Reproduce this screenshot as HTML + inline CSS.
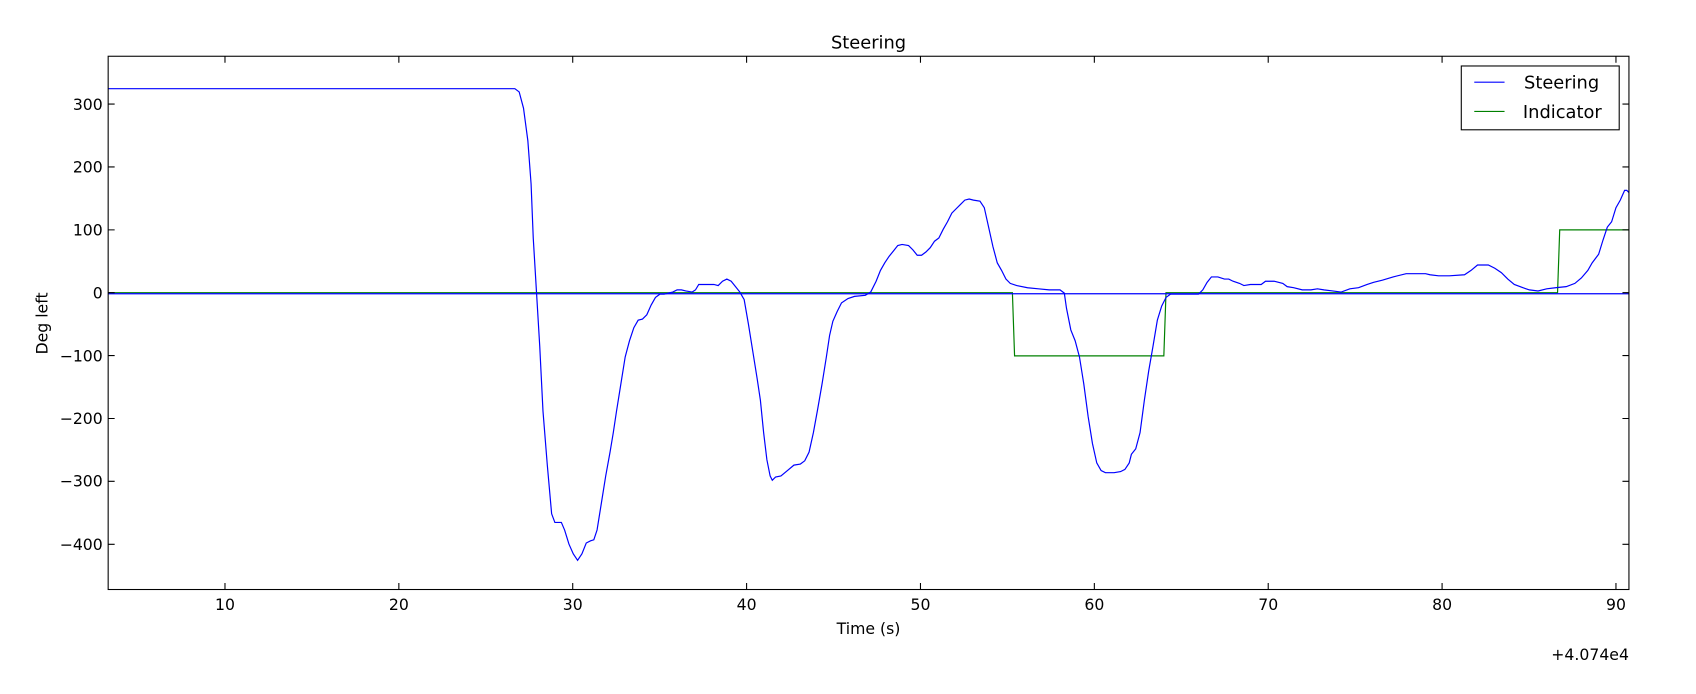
<!DOCTYPE html>
<html><head><meta charset="utf-8"><style>html,body{margin:0;padding:0;background:#fff;}svg{display:block}</style></head>
<body>
<svg width="1696" height="694" viewBox="0 0 1568 641.6" preserveAspectRatio="none" xmlns="http://www.w3.org/2000/svg" font-family="DejaVu Sans, Liberation Sans, sans-serif" font-size="14.5">
<rect width="1568" height="641.6" fill="#fff"/>
<defs><clipPath id="c"><rect x="100" y="52" width="1406" height="493"/></clipPath></defs>
<g clip-path="url(#c)" fill="none" stroke-width="1.1">
<polyline stroke="#008000" points="100,270.6 936,270.6 938,329 1076,329 1078,270.6 1440,270.6 1442,212.5 1506,212.5"/>
<line x1="100" y1="271.6" x2="1506" y2="271.6" stroke="#0000ff"/>
<polyline stroke="#0000ff" points="100,82 476,82 480,85 484,100 488,130 491,170 493,220 496,270 499,320 502,380 506,430 510,475 513,483 519,483 522,490 526,503 530,512 534,518 538,512 542,502 546,500 549,499 552,490 556,465 560,440 564,418 567,400 570,380 574,355 578,330 582,315 586,303 590,296 594,295 598,291 602,282 606,275 610,272 614,272 618,271 622,270 626,268 630,268 634,269 640,270 643,268 646,263 660,263 664,264 668,260 672,258 676,260 680,265 684,270 688,277 692,300 696,325 700,350 703,370 706,400 709,425 712,440 714,444 717,441 722,440 728,435 734,430 740,429 744,426 748,418 752,400 756,378 760,355 764,330 767,310 770,297 774,288 778,280 784,276 790,274 800,273 805,270 810,260 814,250 818,243 822,237 826,232 830,227 834,226 840,227 844,231 848,236 852,236 856,233 860,229 864,223 868,220 872,212 876,205 880,197 884,193 888,189 892,185 896,184 900,185 906,186 910,192 914,210 918,228 922,243 926,250 930,258 934,262 940,264 950,266 960,267 970,268 980,268 984,271 986,285 990,305 994,315 998,330 1002,355 1006,385 1010,410 1014,428 1018,435 1022,437 1030,437 1036,436 1040,434 1044,428 1046,420 1050,415 1054,400 1058,370 1062,343 1066,320 1070,296 1074,283 1078,275 1082,272 1090,272 1100,272 1108,272 1112,268 1116,261 1120,256 1126,256 1132,258 1136,258 1140,260 1146,262 1150,264 1156,263 1166,263 1170,260 1178,260 1186,262 1190,265 1196,266 1204,268 1212,268 1218,267 1224,268 1232,269 1240,270 1248,267 1256,266 1264,263 1270,261 1278,259 1288,256 1300,253 1318,253 1322,254 1330,255 1340,255 1354,254 1360,250 1366,245 1376,245 1382,248 1388,252 1394,258 1400,263 1408,266 1414,268 1422,269 1430,267 1438,266 1448,265 1456,262 1462,257 1468,250 1472,243 1478,235 1482,222 1486,210 1490,205 1494,192 1498,185 1502,176 1504,176 1506,178"/>
</g>
<rect x="100" y="52" width="1406" height="493" fill="none" stroke="#000" stroke-width="1"/>
<g stroke="#000" stroke-width="1">
<path d="M208,545v-6M208,52v6M368.75,545v-6M368.75,52v6M529.5,545v-6M529.5,52v6M690.25,545v-6M690.25,52v6M851,545v-6M851,52v6M1011.75,545v-6M1011.75,52v6M1172.5,545v-6M1172.5,52v6M1333.25,545v-6M1333.25,52v6M1494,545v-6M1494,52v6"/>
<path d="M100,96.2h6M1506,96.2h-6M100,154.3h6M1506,154.3h-6M100,212.5h6M1506,212.5h-6M100,270.6h6M1506,270.6h-6M100,328.7h6M1506,328.7h-6M100,386.9h6M1506,386.9h-6M100,445h6M1506,445h-6M100,503.2h6M1506,503.2h-6"/>
</g>
<g text-anchor="middle">
<text x="208" y="564">10</text><text x="368.75" y="564">20</text><text x="529.5" y="564">30</text><text x="690.25" y="564">40</text><text x="851" y="564">50</text><text x="1011.75" y="564">60</text><text x="1172.5" y="564">70</text><text x="1333.25" y="564">80</text><text x="1494" y="564">90</text>
<text x="803" y="586">Time (s)</text>
<text x="803" y="45" font-size="16.5">Steering</text>
<text transform="translate(44,299) rotate(-90)">Deg left</text>
</g>
<text x="1506" y="610" text-anchor="end">+4.074e4</text>
<g text-anchor="end">
<text x="95" y="101.5">300</text><text x="95" y="159.5">200</text><text x="95" y="217.5">100</text><text x="95" y="275.8">0</text><text x="95" y="334">−100</text><text x="95" y="392">−200</text><text x="95" y="450">−300</text><text x="95" y="508.5">−400</text>
</g>
<rect x="1351" y="61" width="146" height="59" fill="#fff" stroke="#000" stroke-width="1"/>
<line x1="1363" y1="76" x2="1391" y2="76" stroke="#0000ff" stroke-width="1.1"/>
<line x1="1363" y1="103" x2="1391" y2="103" stroke="#008000" stroke-width="1.1"/>
<text x="1409" y="82" font-size="16.5">Steering</text>
<text x="1408" y="109" font-size="16.5">Indicator</text>
</svg>
</body></html>
